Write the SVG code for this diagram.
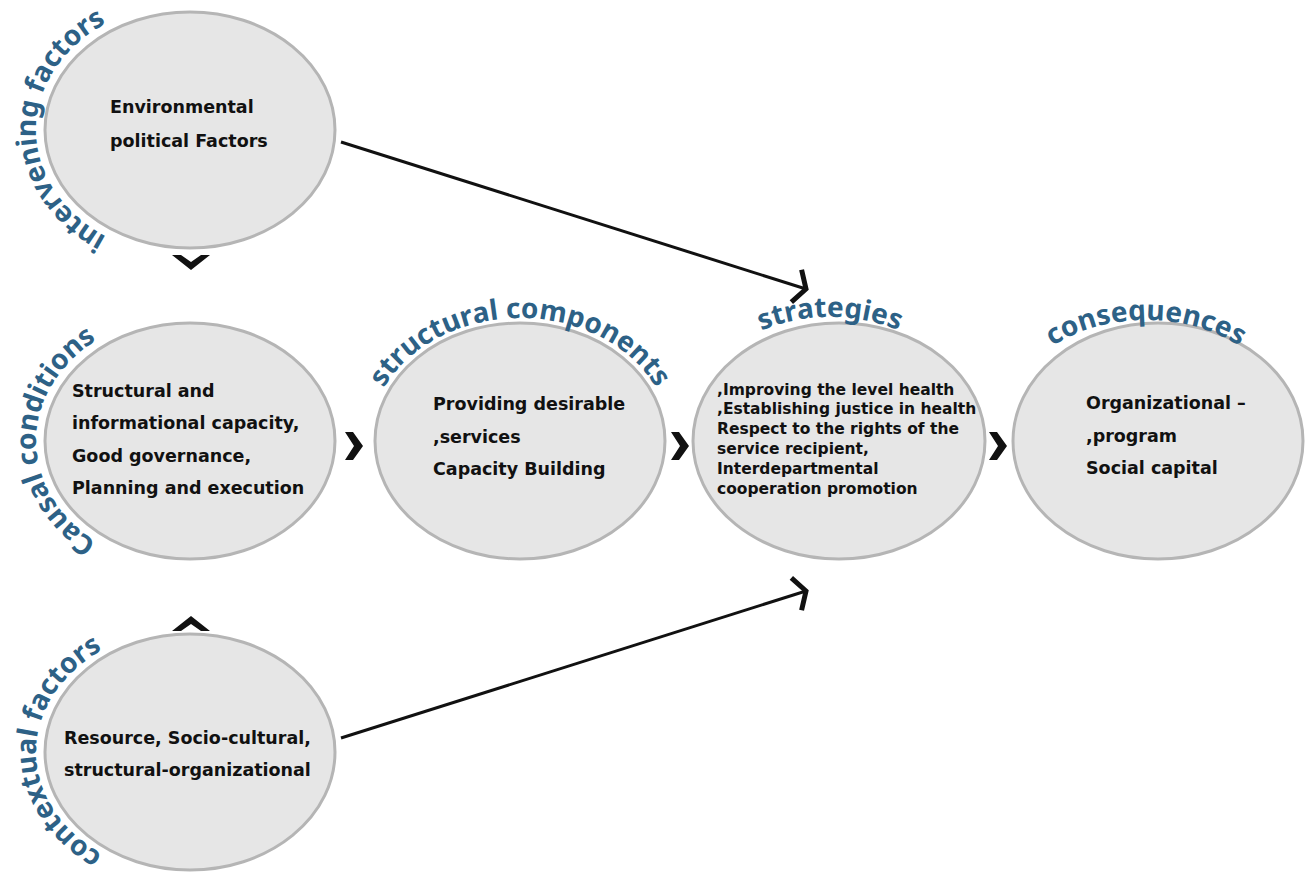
<svg xmlns="http://www.w3.org/2000/svg" xmlns:xlink="http://www.w3.org/1999/xlink" width="1309" height="872" viewBox="0 0 1309 872">
<style>
.node{fill:#e6e6e6;stroke:#b5b5b5;stroke-width:3}
.body{font-family:"DejaVu Sans","Noto Sans",sans-serif;font-weight:700;font-size:17.5px;fill:#111}
.small{font-size:15.5px}
.lbl{font-family:"Noto Sans","Open Sans",sans-serif;font-weight:700;font-size:28px;fill:#2d6186}
.chev{fill:#111}
.conn{stroke:#111;stroke-width:3;fill:none}
</style>
<defs>
<marker id="arr" markerUnits="userSpaceOnUse" markerWidth="40" markerHeight="40" viewBox="-25 -20 30 40" refX="0" refY="0" orient="auto">
<path d="M -10 -17 L 0 0 L -10 17" fill="none" stroke="#111" stroke-width="5" stroke-linejoin="miter"/>
</marker>
<path id="p1" d="M 190 257 A 154 127 0 0 1 190 3"/>
<path id="p2" d="M 190 568 A 154 127 0 0 1 190 314"/>
<path id="p3" d="M 190 876 A 154 124 0 0 1 190 628"/>
<path id="p4" d="M 369 441 A 151 123 0 0 1 671 441"/>
<path id="p5" d="M 679 441 A 151 124 0 0 1 981 441"/>
<path id="p6" d="M 995 441 A 151 121 0 0 1 1297 441"/>
</defs>
<g id="connectors">
<line class="conn" x1="341" y1="142" x2="806" y2="289" marker-end="url(#arr)"/>
<line class="conn" x1="341" y1="738" x2="806" y2="591" marker-end="url(#arr)"/>
<polygon class="chev" points="345,432 353,432 363,446 353,460 345,460 354,446"/>
<polygon class="chev" points="671,432 679,432 689,446 679,460 671,460 680,446"/>
<polygon class="chev" points="989,432 997,432 1007,446 997,460 989,460 998,446"/>
<polygon class="chev" points="172,255 181,255 191,262 201,255 210,255 191,270"/>
<polygon class="chev" points="172,631 181,631 191,624 201,631 210,631 191,616"/>
</g>
<g id="intervening">
<ellipse class="node" cx="190" cy="130" rx="145" ry="118"/>
<text class="lbl"><textPath href="#p1" xlink:href="#p1" startOffset="50%" text-anchor="middle">intervening factors</textPath></text>
<text class="body" x="110" y="113">Environmental</text>
<text class="body" x="110" y="147">political Factors</text>
</g>
<g id="causal">
<ellipse class="node" cx="190" cy="441" rx="145" ry="118"/>
<text class="lbl"><textPath href="#p2" xlink:href="#p2" startOffset="50%" text-anchor="middle">Causal conditions</textPath></text>
<text class="body" x="72" y="397">Structural and</text>
<text class="body" x="72" y="429">informational capacity,</text>
<text class="body" x="72" y="462">Good governance,</text>
<text class="body" x="72" y="494">Planning and execution</text>
</g>
<g id="contextual">
<ellipse class="node" cx="190" cy="752" rx="145" ry="118"/>
<text class="lbl"><textPath href="#p3" xlink:href="#p3" startOffset="50%" text-anchor="middle">contextual factors</textPath></text>
<text class="body" x="64" y="744">Resource, Socio-cultural,</text>
<text class="body" x="64" y="776">structural-organizational</text>
</g>
<g id="structural">
<ellipse class="node" cx="520" cy="441" rx="145" ry="118"/>
<text class="lbl"><textPath href="#p4" xlink:href="#p4" startOffset="50%" text-anchor="middle">structural components</textPath></text>
<text class="body" x="433" y="410">Providing desirable</text>
<text class="body" x="433" y="443">,services</text>
<text class="body" x="433" y="475">Capacity Building</text>
</g>
<g id="strategies">
<ellipse class="node" cx="839" cy="441" rx="146" ry="118"/>
<text class="lbl"><textPath href="#p5" xlink:href="#p5" startOffset="50%" text-anchor="middle">strategies</textPath></text>
<text class="body small" x="717" y="395">,Improving the level health</text>
<text class="body small" x="717" y="414">,Establishing justice in health</text>
<text class="body small" x="717" y="434">Respect to the rights of the</text>
<text class="body small" x="717" y="454">service recipient,</text>
<text class="body small" x="717" y="474">Interdepartmental</text>
<text class="body small" x="717" y="494">cooperation promotion</text>
</g>
<g id="consequences">
<ellipse class="node" cx="1158" cy="441" rx="145" ry="118"/>
<text class="lbl"><textPath href="#p6" xlink:href="#p6" startOffset="50%" text-anchor="middle">consequences</textPath></text>
<text class="body" x="1086" y="409">Organizational –</text>
<text class="body" x="1086" y="442">,program</text>
<text class="body" x="1086" y="474">Social capital</text>
</g>
</svg>
